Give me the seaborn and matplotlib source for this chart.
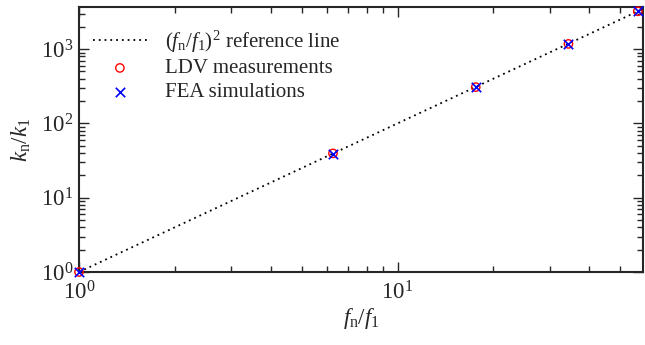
import matplotlib
matplotlib.use("Agg")
import matplotlib.pyplot as plt
import seaborn as sns
import numpy as np
import pandas as pd
from matplotlib.ticker import LogLocator, NullFormatter

# Data
freq_ratio = [1.0, 6.27, 17.6, 34.4, 56.8]
ldv_stiff = [1.0, 39.5, 308, 1175, 3230]
fea_stiff = [1.0, 39.0, 305, 1185, 3215]
ref_x = [1.0, 60.0]
ref_y = [v ** 2 for v in ref_x]

sns.set_style("ticks")
plt.rcParams['font.family'] = ['Liberation Serif', 'DejaVu Serif']
plt.rcParams['mathtext.fontset'] = 'custom'
plt.rcParams['mathtext.rm'] = 'Liberation Serif'
plt.rcParams['mathtext.it'] = 'Liberation Serif:italic'
plt.rcParams['mathtext.bf'] = 'Liberation Serif:bold'

fig = plt.figure(figsize=(6.45, 3.45), dpi=100)
ax = fig.add_axes([0.1225, 0.2116, 0.8745, 0.7684])

ref_df = pd.DataFrame({"x": ref_x, "y": ref_y})
meas_df = pd.DataFrame({"x": freq_ratio, "ldv": ldv_stiff, "fea": fea_stiff})

sns.lineplot(data=ref_df, x="x", y="y", ax=ax, color="black", linestyle=(0, (1, 2.2)),
             linewidth=1.3, label=r"$(f_\mathrm{n}/f_1)^2$ reference line")
sns.scatterplot(data=meas_df, x="x", y="ldv", ax=ax, marker="o", s=36,
                facecolor="none", edgecolor="red", linewidth=1.0, label="LDV measurements",
                clip_on=False, zorder=5)
sns.scatterplot(data=meas_df, x="x", y="fea", ax=ax, marker="x", s=46,
                color="blue", linewidth=1.2, label="FEA simulations",
                clip_on=False, zorder=6)

ax.set_xscale("log")
ax.set_yscale("log")
ax.set_xlim(1, 59)
ax.set_ylim(1, 3700)

ax.xaxis.set_major_locator(LogLocator(base=10, numticks=10))
ax.xaxis.set_minor_locator(LogLocator(base=10, subs=np.arange(2, 10), numticks=20))
ax.yaxis.set_major_locator(LogLocator(base=10, numticks=10))
ax.yaxis.set_minor_locator(LogLocator(base=10, subs=np.arange(2, 10), numticks=20))
ax.xaxis.set_minor_formatter(NullFormatter())
ax.yaxis.set_minor_formatter(NullFormatter())

ax.tick_params(which="both", direction="in", top=True, right=True, labelsize=16.5, width=1.0)
ax.tick_params(which="major", length=7)
ax.tick_params(which="minor", length=4)
ax.tick_params(axis="x", pad=7)
ax.tick_params(axis="y", pad=4)
for sp in ax.spines.values():
    sp.set_linewidth(1.5)

ax.set_xlabel(r"$f_\mathrm{n}/f_1$", fontsize=16.5, labelpad=1)
ax.set_ylabel(r"$k_\mathrm{n}/k_1$", fontsize=16.5, labelpad=6)

leg = ax.legend(loc="upper left", frameon=False, fontsize=15, handlelength=2.6,
                handletextpad=0.85, borderaxespad=0.1, labelspacing=0.2,
                bbox_to_anchor=(0.006, 0.958))

fig.savefig("out.png", dpi=100)
